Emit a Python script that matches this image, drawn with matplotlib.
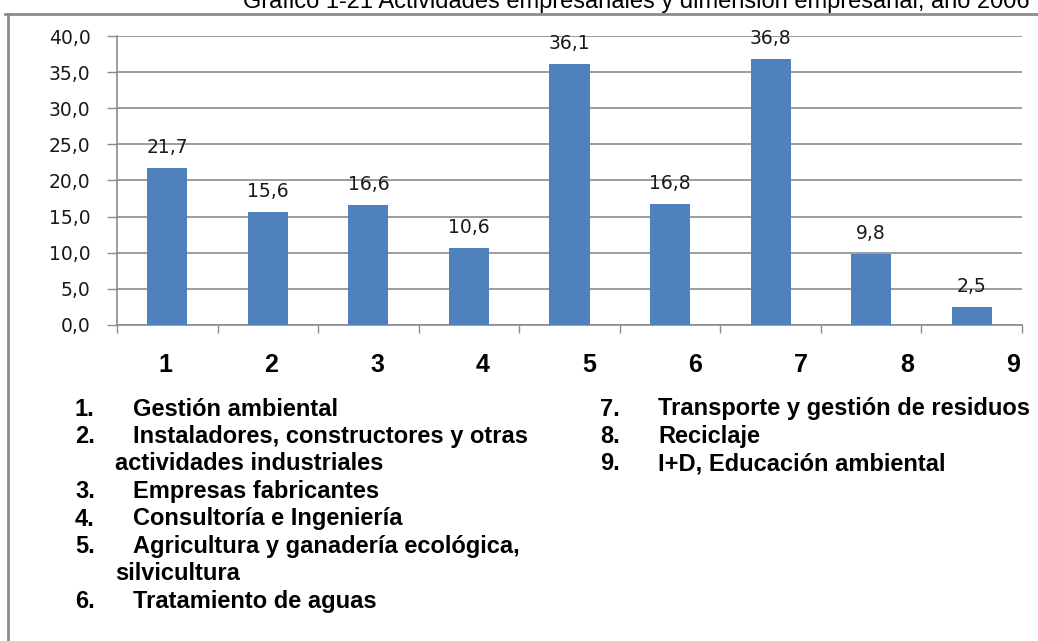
import matplotlib
matplotlib.use("Agg")
import matplotlib.pyplot as plt
from matplotlib.lines import Line2D

categories = ["1", "2", "3", "4", "5", "6", "7", "8", "9"]
values = [21.7, 15.6, 16.6, 10.6, 36.1, 16.8, 36.8, 9.8, 2.5]
yticks = [0, 5, 10, 15, 20, 25, 30, 35, 40]
legend_left = [
    ("1.", ["Gestión ambiental"]),
    ("2.", ["Instaladores, constructores y otras", "actividades industriales"]),
    ("3.", ["Empresas fabricantes"]),
    ("4.", ["Consultoría e Ingeniería"]),
    ("5.", ["Agricultura y ganadería ecológica,", "silvicultura"]),
    ("6.", ["Tratamiento de aguas"]),
]
legend_right = [
    ("7.", ["Transporte y gestión de residuos"]),
    ("8.", ["Reciclaje"]),
    ("9.", ["I+D, Educación ambiental"]),
]
title = "Gráfico 1-21 Actividades empresariales y dimensión empresarial, año 2006"

W, H = 1038, 641
fig = plt.figure(figsize=(W / 100, H / 100), dpi=100)

def fx(px):
    return px / W

def fy(py):
    return 1 - py / H

# outer frame lines (left and top)
fig.add_artist(Line2D([fx(8), fx(8)], [fy(14), 0], color="#8c8c8c", lw=2, transform=fig.transFigure))
fig.add_artist(Line2D([fx(5), 1], [fy(14), fy(14)], color="#8c8c8c", lw=2, transform=fig.transFigure))

fig.text(fx(636), fy(8), title, ha="center", va="baseline", fontsize=17,
         family="Liberation Sans", color="black")

ax = fig.add_axes([fx(117), fy(325), fx(1022) - fx(117), fy(36) - fy(325)])
x = list(range(len(values)))
ax.bar(x, values, width=0.4, color="#4f81bd", zorder=3)
ax.set_xlim(-0.5, len(values) - 0.5)
ax.set_ylim(0, 40)
ax.set_yticks(yticks)
ax.set_yticklabels([f"{v:.1f}".replace(".", ",") for v in yticks],
                   fontsize=13.5, family="DejaVu Sans", color="#1a1a1a")
ax.yaxis.grid(True, color="#8c8c8c", lw=1.2, zorder=0)
ax.set_axisbelow(True)
ax.tick_params(axis="y", length=7, width=1, color="#8c8c8c", pad=12)
ax.set_xticks([i - 0.5 for i in range(len(values) + 1)])
ax.set_xticklabels([])
ax.tick_params(axis="x", length=6, width=1, color="#8c8c8c", direction="out")
for s in ["top", "right"]:
    ax.spines[s].set_visible(False)
for s in ["left", "bottom"]:
    ax.spines[s].set_color("#8c8c8c")
    ax.spines[s].set_linewidth(1.2)

for xi, v in zip(x, values):
    ax.annotate(f"{v:.1f}".replace(".", ","), (xi, v), xytext=(0, 8),
                textcoords="offset points", ha="center", va="bottom",
                fontsize=13.5, family="DejaVu Sans", color="#1a1a1a")

# category numbers beneath the axis
num_x = [165, 271, 377, 483, 589, 695, 801, 907, 1013]
for px, c in zip(num_x, categories):
    fig.text(fx(px), fy(365), c, ha="center", va="center", fontsize=18,
             fontweight="bold", family="Liberation Sans")

# legend lists
def draw_list(items, x_num, x_txt, x_cont, y0, dy):
    y = y0
    for num, lines in items:
        fig.text(fx(x_num), fy(y), num, ha="left", va="center", fontsize=17,
                 fontweight="bold", family="Liberation Sans")
        for k, line in enumerate(lines):
            fig.text(fx(x_txt if k == 0 else x_cont), fy(y), line, ha="left", va="center",
                     fontsize=17, fontweight="bold", family="Liberation Sans")
            y += dy

draw_list(legend_left, 75, 133, 115, 409, 27.5)
draw_list(legend_right, 600, 658, 658, 409, 27.5)

fig.savefig("out.png", dpi=100)
